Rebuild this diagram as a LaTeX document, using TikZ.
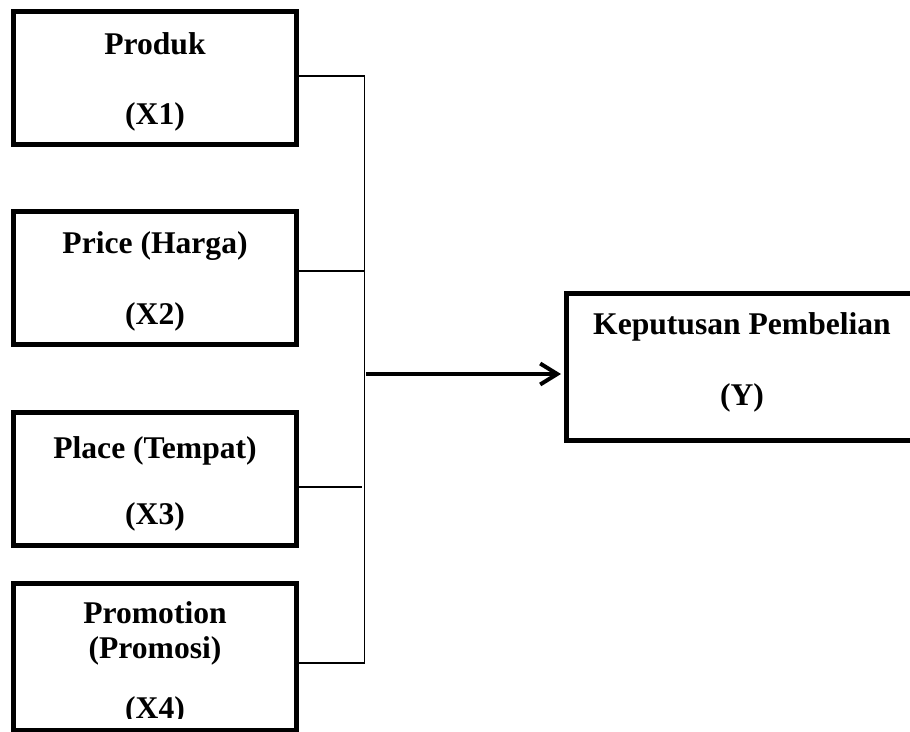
\documentclass[tikz,border=0pt]{standalone}
\usepackage{fontspec}
\setmainfont{Liberation Serif}
\usetikzlibrary{arrows.meta,calc}
\tikzset{
  varbox/.style={draw=black, line width=5pt, rectangle, inner sep=0pt, minimum width=283pt},
  lbl/.style={anchor=base, inner sep=0pt, font=\fontsize{31.6}{38}\selectfont\bfseries},
  link/.style={draw=black, line width=1.5pt},
  mainarrow/.style={draw=black, line width=4pt, -{Straight Barb[length=17pt,width=21pt,line width=4pt]}}
}
\begin{document}
\begin{tikzpicture}[x=1pt,y=-1pt]
\useasboundingbox (0,0) rectangle (910,731);
% boxes
\node[varbox, minimum height=133pt] (b1) at (155,78) {};
\node[varbox, minimum height=133pt] (b2) at (155,278) {};
\node[varbox, minimum height=133pt] (b3) at (155,478.5) {};
\node[varbox, minimum height=147pt] (b4) at (155,657) {};
\node[varbox, minimum width=369pt, minimum height=147pt] (y) at (750.5,367) {};
% texts
\node[lbl] (t1a) at (155,54) {Produk};
\node[lbl] (t1b) at (155,124) {(X1)};
\node[lbl] (t2a) at (155,253) {Price (Harga)};
\node[lbl] (t2b) at (155,324) {(X2)};
\node[lbl] (t3a) at (155,458) {Place (Tempat)};
\node[lbl] (t3b) at (155,524) {(X3)};
\node[lbl] (t4a) at (155,623) {Promotion};
\node[lbl] (t4b) at (155,658) {(Promosi)};
\begin{scope}
  \clip (100,680) rectangle (210,718.5);
  \node[lbl] (t4c) at (155,718) {(X4)};
\end{scope}
\node[lbl] (tya) at (742,334) {Keputusan Pembelian};
\node[lbl] (tyb) at (742,405) {(Y)};
% connectors
\coordinate (v1) at (364.5,76);
\coordinate (v2) at (364.5,271);
\coordinate (v3) at (364.5,487);
\coordinate (v4) at (364.5,663);
\coordinate (j) at (366,374);
\draw[link] (v1 -| b1.east) -- (v1);
\draw[link] (v2 -| b2.east) -- (v2);
\draw[link] (v3 -| b3.east) -- (362,487);
\draw[link] (v4 -| b4.east) -- (v4);
\draw[link] (v1) -- (v4);
\draw[mainarrow, shorten >=2.5pt] (j) -- (j -| y.west);
\end{tikzpicture}
\end{document}
